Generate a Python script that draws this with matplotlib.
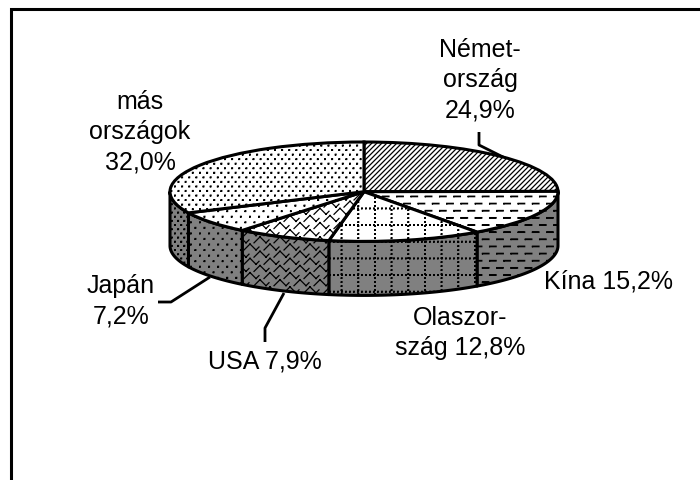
import numpy as np
import matplotlib
matplotlib.use('Agg')
import matplotlib.pyplot as plt
import matplotlib.hatch as mhatch
from matplotlib.patches import Polygon
from matplotlib.path import Path

shares = [24.9, 15.2, 12.8, 7.9, 7.2, 32.0]
top_hatches = ['/', '-', '+', 'x', 'o', '.']
wall_hatches = ['/', '-', '+', 'x', 'o', '*']
labels = ['Német-\nország\n24,9%', 'Kína 15,2%', 'Olaszor-\nszág 12,8%',
          'USA 7,9%', 'Japán\n7,2%', 'más\nországok\n32,0%']
label_x = [480, 608, 460, 265, 121, 140]
label_y = [80, 281, 333, 362, 301, 132]
leader_x = [[479, 479, 505], [158, 171, 210], [265, 265, 284]]
leader_y = [[132, 145, 158], [302, 302, 277], [342, 328, 293]]

WIDTH = 700
HEIGHT = 480
CX = 364
CY = 191.7
RX = 194
RY = 49.7
DEPTH = 54 / RY
TILE = 100.0  # hatch tile is dpi x dpi pixels


def square(x, y, w, h):
    return [(x - w, y - h), (x + w, y - h), (x + w, y + h), (x - w, y + h), (x - w, y - h)]


def dots(cols, rows, size):
    segs = []
    for j in range(-1, rows + 1):
        for i in range(-1, cols + 1):
            x = (i + 0.5 * (j % 2)) * TILE / cols
            segs.append(square(x, j * TILE / rows, size, size))
    return segs


def diagonals(n):
    return [[(i * TILE / n - TILE, 0), (i * TILE / n, TILE)] for i in range(2 * n + 1)]


def dashes(cols, rows, length):
    segs = []
    for j in range(-1, rows + 1):
        for i in range(-1, cols + 1):
            x = (i + 0.5 * (j % 2)) * TILE / cols
            segs.append(square(x, (j + 0.5) * TILE / rows, length / 2, 0.25))
    return segs


def dotted_grid(cells, steps, size):
    segs = []
    for c in range(cells):
        for s in range(steps):
            p = (c + 0.5) * TILE / cells
            q = (s + 0.5) * TILE / steps
            segs.append(square(p, q, size, size))
            segs.append(square(q, p, size, size))
    return segs


def chevrons(cols, rows, half, tall, tail):
    w = TILE / cols
    h = TILE / rows
    segs = []
    for j in range(-2, rows + 2):
        for i in range(-2, cols + 2):
            x = (i + 0.5 * (j % 2)) * w
            y = j * h
            segs.append([(x - half, y), (x, y + tall)])
            segs.append([(x, y + tall), (x + half, y)])
            segs.append([(x + half, y), (x + half + tail, y + tail)])
    return segs


tiles = {
    '/': diagonals(20),
    '-': dashes(7, 14, 6.5),
    '+': dotted_grid(6, 25, 0.35),
    'x': chevrons(5, 14, 6, 6, 3),
    'o': dots(11, 18, 0.35),
    '.': dots(14, 22, 0.35),
    '*': dots(16, 24, 0.35),
}


class TileHatch:
    def __init__(self, hatch, density):
        self.segs = [s for c in hatch for s in tiles.get(c, [])]
        self.num_vertices = sum(len(s) for s in self.segs)

    def set_vertices_and_codes(self, vertices, codes):
        pos = 0
        for s in self.segs:
            vertices[pos:pos + len(s)] = np.array(s) / TILE
            codes[pos] = Path.MOVETO
            codes[pos + 1:pos + len(s)] = Path.LINETO
            pos += len(s)


mhatch._hatch_types[:] = [TileHatch]

plt.rcParams['font.family'] = 'Liberation Sans'
plt.rcParams['hatch.linewidth'] = 0.9

fig = plt.figure(figsize=(7, 4.8), dpi=100)

# back axes in picture pixels: frame, labels, leader lines
back = fig.add_axes([0, 0, 1, 1])
back.set_xlim(0, WIDTH)
back.set_ylim(HEIGHT, 0)
back.axis('off')
back.plot([11, 11, WIDTH], [HEIGHT, 9, 9], color='black', lw=2.2,
          solid_joinstyle='miter', solid_capstyle='butt')
for lx, ly in zip(leader_x, leader_y):
    back.plot(lx, ly, color='black', lw=2.0, solid_capstyle='butt')
for text, x, y in zip(labels, label_x, label_y):
    back.text(x, y, text, ha='center', va='center', ma='center',
              fontsize=18, linespacing=1.32, color='black')

# pie axes: unit circle stretched to the ellipse
ax = fig.add_axes([0, 0, 1, 1])
wedges, _ = ax.pie(shares, startangle=90, counterclock=False,
                   wedgeprops={'facecolor': 'white', 'edgecolor': 'black', 'linewidth': 2.2})
ax.set_aspect('auto')
ax.set_xlim(-CX / RX, (WIDTH - CX) / RX)
ax.set_ylim((CY - HEIGHT) / RY, CY / RY)
ax.patch.set_visible(False)

cum = 0
for wedge, share, top, side in zip(wedges, shares, top_hatches, wall_hatches):
    wedge.set_hatch(top)
    start = cum * 3.6
    cum += share
    end = cum * 3.6
    a = max(start, 90)
    b = min(end, 270)
    if b <= a:
        continue
    t = np.radians(np.linspace(a, b, 60))
    xs = np.sin(t)
    ys = np.cos(t)
    pts = np.column_stack([np.r_[xs, xs[::-1]], np.r_[ys, ys[::-1] - DEPTH]])
    ax.add_patch(Polygon(pts, closed=True, facecolor='#808080', edgecolor='black',
                         linewidth=2.2, hatch=side, zorder=0.5, joinstyle='round'))

fig.savefig('out.png', dpi=100)
